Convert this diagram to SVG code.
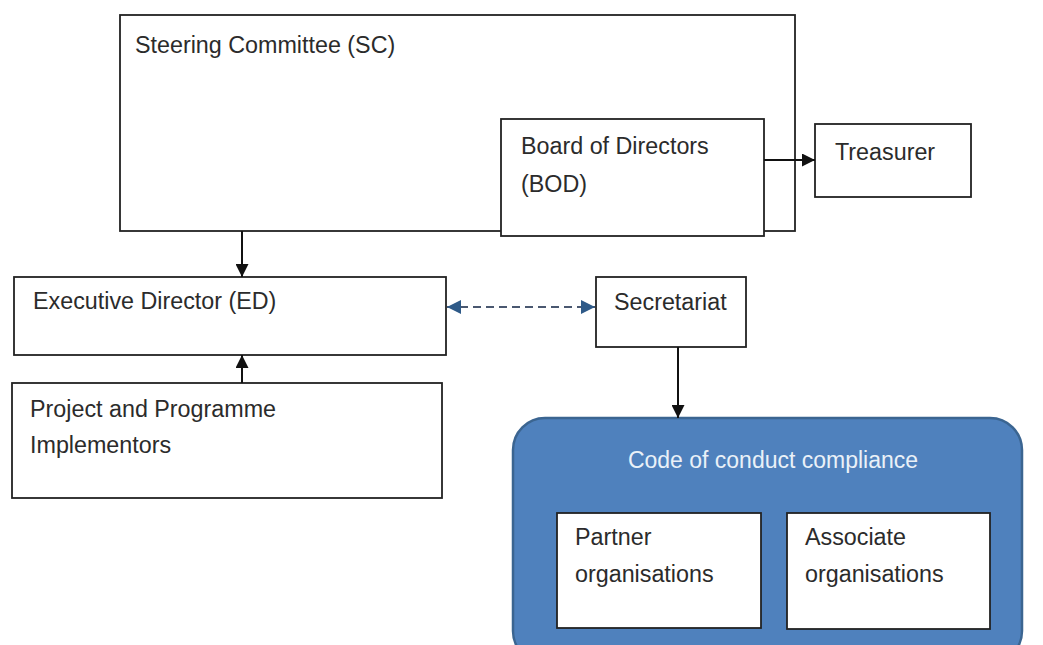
<svg xmlns="http://www.w3.org/2000/svg" width="1043" height="645" viewBox="0 0 1043 645">
<defs>
<style>
.box{fill:#fff;stroke:#222;stroke-width:1.8}
.t{font-family:"Liberation Sans",Arial,sans-serif;font-size:23.3px;fill:#2b2b2b}
.w{font-family:"Liberation Sans",Arial,sans-serif;font-size:23px;fill:#eaf1f8}
.con{stroke:#111;stroke-width:2;fill:none}
</style>
<marker id="ah" viewBox="0 0 10 10" refX="10" refY="5" markerWidth="13" markerHeight="13" markerUnits="userSpaceOnUse" orient="auto">
<path d="M0,0 L10,5 L0,10 z" fill="#111"/>
</marker>
<marker id="bh" viewBox="0 0 10 10" refX="10" refY="5" markerWidth="14" markerHeight="14" markerUnits="userSpaceOnUse" orient="auto-start-reverse">
<path d="M0,0 L10,5 L0,10 z" fill="#2e5a88"/>
</marker>
</defs>
<rect width="1043" height="645" fill="#fff"/>
<g id="sc">
<rect class="box" x="120" y="15" width="675" height="216"/>
<text class="t" x="135" y="53">Steering Committee (SC)</text>
</g>
<g id="bod">
<rect class="box" x="501" y="119" width="263" height="117"/>
<text class="t" x="521" y="154">Board of Directors</text>
<text class="t" x="521" y="192">(BOD)</text>
</g>
<g id="treasurer">
<rect class="box" x="815" y="124" width="156" height="73"/>
<text class="t" x="835" y="160">Treasurer</text>
</g>
<g id="ed">
<rect class="box" x="14" y="277" width="432" height="78"/>
<text class="t" x="33" y="309">Executive Director (ED)</text>
</g>
<g id="ppi">
<rect class="box" x="12" y="383" width="430" height="115"/>
<text class="t" x="30" y="417">Project and Programme</text>
<text class="t" x="30" y="453">Implementors</text>
</g>
<g id="secretariat">
<rect class="box" x="596" y="277" width="150" height="70"/>
<text class="t" x="614" y="310">Secretariat</text>
</g>
<g id="coc">
<rect x="513" y="418" width="509" height="245" rx="32" ry="32" fill="#4f81bd" stroke="#3b6591" stroke-width="2.5"/>
<text class="w" x="773" y="468" text-anchor="middle">Code of conduct compliance</text>
</g>
<g id="partner">
<rect class="box" x="557" y="513" width="204" height="115"/>
<text class="t" x="575" y="545">Partner</text>
<text class="t" x="575" y="582">organisations</text>
</g>
<g id="associate">
<rect class="box" x="787" y="513" width="203" height="116"/>
<text class="t" x="805" y="545">Associate</text>
<text class="t" x="805" y="582">organisations</text>
</g>
<g id="connectors">
<line class="con" x1="764" y1="160" x2="815" y2="160" marker-end="url(#ah)"/>
<line class="con" x1="242" y1="231" x2="242" y2="277" marker-end="url(#ah)"/>
<line class="con" x1="242" y1="383" x2="242" y2="355" marker-end="url(#ah)"/>
<line class="con" x1="678" y1="347" x2="678" y2="418" marker-end="url(#ah)"/>
<line x1="447" y1="307" x2="595" y2="307" stroke="#4a5870" stroke-width="2" stroke-dasharray="8,5" marker-start="url(#bh)" marker-end="url(#bh)"/>
</g>
</svg>
